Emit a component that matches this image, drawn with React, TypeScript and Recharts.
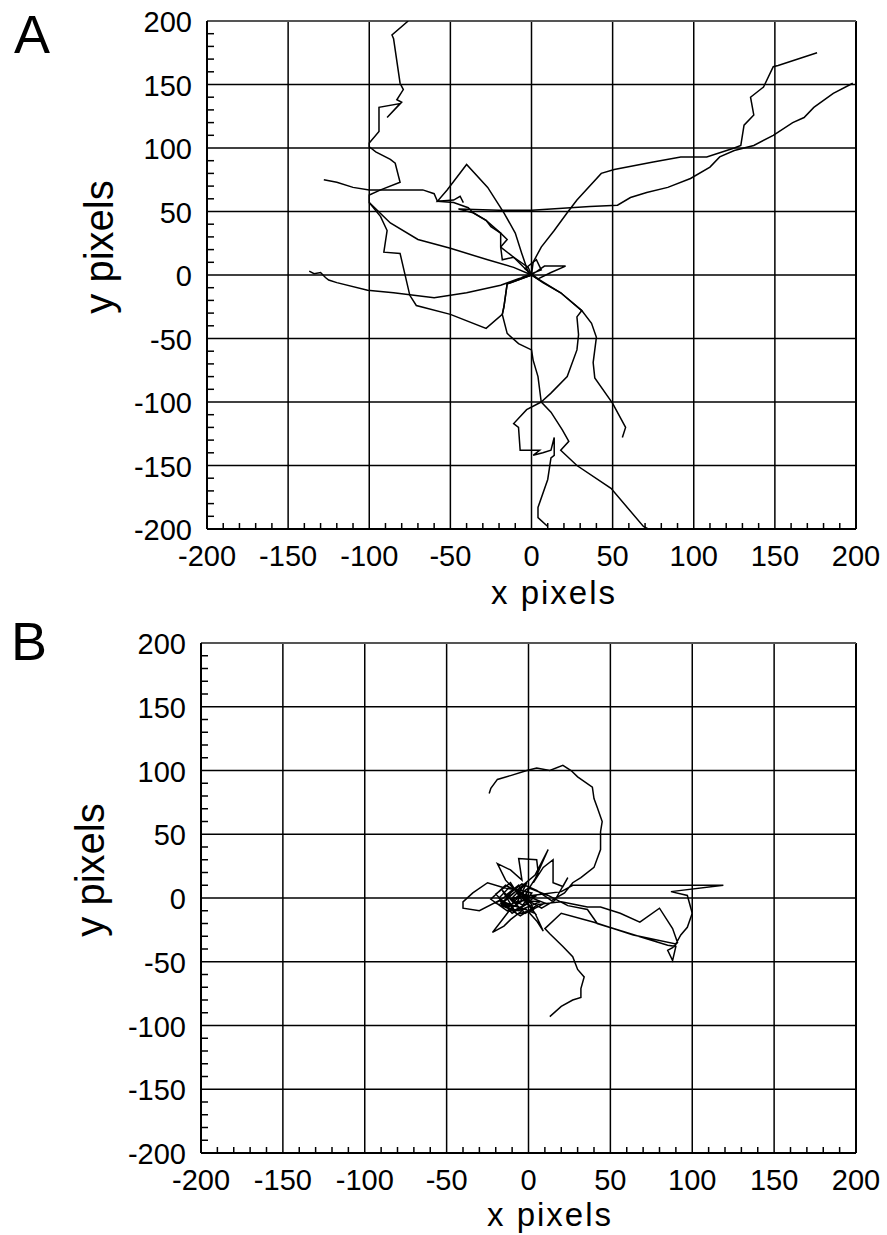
import React from 'react';
import { LineChart, Line, XAxis, YAxis, ReferenceLine } from 'recharts';

// trajectories, panel A (x, y in pixels)
const trackA1 = [[0,0],[-11,6],[-27,12],[-50,21],[-70,28],[-87,41],[-100,57],[-100,63],[-93,67],[-81,73],[-84,88],[-87,91],[-96,97],[-100,101],[-100,104],[-94,113],[-94,132],[-81,135],[-89,124],[-80,136],[-83,138],[-79,146],[-81,151],[-85,186],[-86,189],[-76,200]];
const trackA2 = [[0,0],[-2,6],[-11,14],[-18,12],[-19,22],[-15,28],[-19,33],[-25,38],[-28,43],[-36,49],[-39,53],[-48,57],[-58,58],[-60,64],[-67,67],[-100,67],[-110,69],[-120,73],[-128,75]];
const trackA3 = [[0,0],[-2,2],[-6,17],[-10,33],[-17,49],[-27,69],[-40,87],[-52,67],[-58,58],[-48,59],[-44,62],[-42,57]];
const trackA4 = [[0,0],[-8,-3],[-19,-8],[-40,-14],[-60,-18],[-85,-14],[-101,-12],[-120,-6],[-125,-4],[-127,-2],[-130,2],[-134,1],[-137,3]];
const trackA5 = [[0,0],[-15,-7],[-17,-25],[-18,-31],[-28,-42],[-50,-31],[-71,-24],[-75,-16],[-81,17],[-91,18],[-89,35],[-93,46],[-100,57]];
const trackA6 = [[0,0],[1,10],[6,22],[14,35],[22,49],[28,59],[43,80],[51,83],[75,89],[92,93],[108,93],[125,100],[129,102],[131,118],[137,126],[135,140],[143,148],[149,164],[152,165],[176,175]];
const trackA7 = [[0,0],[-11,14],[-19,22],[-19,33],[-28,43],[-36,49],[-45,52],[-20,51],[0,51],[36,54],[53,55],[61,61],[71,65],[84,69],[98,76],[110,85],[116,93],[125,98],[137,102],[149,110],[161,120],[168,124],[174,132],[186,143],[198,151]];
const trackA8 = [[0,0],[7,-6],[18,-14],[31,-28],[28,-33],[29,-47],[28,-59],[22,-80],[12,-93],[6,-100],[12,-108],[19,-122],[23,-131],[18,-138],[28,-150],[49,-168],[69,-198],[72,-200]];
const trackA9 = [[0,0],[18,-14],[31,-28],[37,-38],[40,-49],[38,-69],[39,-81],[50,-101],[58,-120],[56,-128]];
const trackA10 = [[0,0],[-15,-7],[-17,-25],[-18,-31],[-15,-46],[-8,-54],[0,-59],[1,-67],[4,-80],[6,-100],[-3,-106],[-11,-117],[-8,-120],[-7,-138],[5,-138],[1,-142],[7,-140],[12,-138],[14,-128],[14,-142],[12,-144],[10,-161],[4,-183],[4,-191],[10,-198]];
const trackA11 = [[0,0],[8,7],[21,7],[12,2],[4,-3],[-4,5],[3,12],[6,4],[-6,-2],[0,0]];

// trajectory, panel B
const trackB = [[-24,82],[-23,86],[-19,93],[-11,96],[-1,100],[5,102],[13,100],[21,104],[26,100],[30,95],[39,87],[40,78],[42,71],[45,60],[44,52],[44,38],[40,24],[32,16],[27,12],[22,4],[14,-2],[5,6],[-4,11],[-12,3],[-20,-4],[-9,-10],[1,-3],[-6,6],[-15,8],[-25,12],[-34,4],[-40,-3],[-40,-8],[-30,-10],[-18,-2],[-10,-7],[-22,-27],[-15,-22],[-11,-17],[-2,-8],[5,-18],[9,-26],[4,-12],[-5,2],[-14,14],[-19,27],[-11,22],[-4,14],[-6,31],[5,30],[6,19],[1,9],[-3,0],[8,-8],[16,-2],[24,16],[21,9],[15,12],[15,30],[9,24],[3,12],[12,38],[4,18],[-8,5],[-17,-4],[-5,-14],[6,-5],[20,-3],[36,-7],[44,-7],[56,-12],[68,-19],[80,-8],[88,-24],[91,-35],[88,-39],[85,-41],[88,-49],[90,-38],[85,-37],[42,-20],[36,-9],[24,-6],[12,2],[0,8],[-10,-2],[-2,-12],[10,-4],[-8,5],[-15,-3],[-5,-8],[2,4],[-12,8],[-18,0],[-10,-12],[0,-4],[-6,10],[-14,2],[-3,-6],[5,2],[-9,-4],[-16,6],[-7,-13],[3,-9],[-2,6],[-12,-7],[-20,3],[-11,12],[-4,-2],[7,-3],[-6,-10],[-17,-6],[-9,7],[0,1],[-13,-10],[-23,-1],[-14,10],[-5,4],[4,-12],[-8,-6],[-1,12],[-10,0],[8,3],[20,5],[27,10],[60,10],[119,10],[87,5],[97,2],[100,-12],[97,-23],[93,-29],[90,-36],[64,-29],[40,-19],[20,-12],[10,-24],[13,-28],[21,-38],[27,-46],[30,-56],[34,-62],[32,-71],[32,-78],[27,-80],[20,-85],[13,-93]];

const tracesA = [trackA1, trackA2, trackA3, trackA4, trackA5, trackA6, trackA7, trackA8, trackA9, trackA10, trackA11];
const tracesB = [trackB];

const gridValues = [-150, -100, -50, 0, 50, 100, 150, 200];
const allTicks = Array.from({ length: 41 }, (_, i) => -200 + i * 10);

const font = '"Liberation Sans", Arial, Helvetica, sans-serif';

const XTick = (props: any) => {
  const { x, y, payload } = props;
  const v = payload.value;
  if (v % 50 !== 0) {
    return <line x1={x} y1={y} x2={x} y2={y - 6} stroke="#000" strokeWidth={1.5} />;
  }
  return (
    <text x={x} y={y + 37} textAnchor="middle" fontSize={29} fontFamily={font} fill="#000">
      {v}
    </text>
  );
};

const YTick = (props: any) => {
  const { x, y, payload } = props;
  const v = payload.value;
  if (v % 50 !== 0) {
    return <line x1={x} y1={y} x2={x + 7} y2={y} stroke="#000" strokeWidth={1.5} />;
  }
  return (
    <text x={x - 15} y={y + 11} textAnchor="end" fontSize={29} fontFamily={font} fill="#000">
      {v}
    </text>
  );
};

function Panel({ traces, top, height, marginTop, yAxisWidth, xAxisHeight }: any) {
  return (
    <div style={{ position: 'absolute', left: 0, top }}>
      <LineChart width={887} height={height} margin={{ top: marginTop, right: 31, bottom: 0, left: 0 }}>
        <XAxis
          type="number"
          dataKey="x"
          domain={[-200, 200]}
          allowDataOverflow
          ticks={allTicks}
          interval={0}
          tickSize={0}
          tickMargin={0}
          tickLine={false}
          tick={<XTick />}
          height={xAxisHeight}
          axisLine={{ stroke: '#000', strokeWidth: 2 }}
        />
        <YAxis
          type="number"
          dataKey="y"
          domain={[-200, 200]}
          allowDataOverflow
          ticks={allTicks}
          interval={0}
          tickSize={0}
          tickMargin={0}
          tickLine={false}
          tick={<YTick />}
          width={yAxisWidth}
          axisLine={{ stroke: '#000', strokeWidth: 2 }}
        />
        {gridValues.map((v) => (
          <ReferenceLine key={'gx' + v} x={v} stroke="#000" strokeWidth={v === 200 ? 2 : 1.5} />
        ))}
        {gridValues.map((v) => (
          <ReferenceLine key={'gy' + v} y={v} stroke={v === 200 ? '#555' : '#000'} strokeWidth={v === 200 ? 2 : 1.5} />
        ))}
        {traces.map((t: number[][], i: number) => (
          <Line
            key={i}
            data={t.map(([x, y]) => ({ x, y }))}
            dataKey="y"
            type="linear"
            stroke="#000"
            strokeWidth={1.5}
            dot={false}
            activeDot={false}
            isAnimationActive={false}
          />
        ))}
      </LineChart>
    </div>
  );
}

export default function App() {
  return (
    <div style={{ position: 'absolute', left: 0, top: 0, width: 887, height: 1235, background: '#fff', fontFamily: font }}>
      <Panel traces={tracesA} top={0} height={620} marginTop={21} yAxisWidth={207} xAxisHeight={91} />
      <Panel traces={tracesB} top={620} height={615} marginTop={23} yAxisWidth={201} xAxisHeight={82} />
      <svg width={887} height={1235} style={{ position: 'absolute', left: 0, top: 0, pointerEvents: 'none' }}>
        <g fontFamily={font} fill="#000">
          <text x={14} y={53} fontSize={54}>A</text>
          <text x={11} y={660} fontSize={54}>B</text>
          <text x={554} y={604} fontSize={33} letterSpacing={2} textAnchor="middle">x pixels</text>
          <text x={550} y={1226} fontSize={33} letterSpacing={2} textAnchor="middle">x pixels</text>
          <text transform="translate(113,247) rotate(-90)" fontSize={40} textAnchor="middle">y pixels</text>
          <text transform="translate(104,870) rotate(-90)" fontSize={40} textAnchor="middle">y pixels</text>
        </g>
      </svg>
    </div>
  );
}
